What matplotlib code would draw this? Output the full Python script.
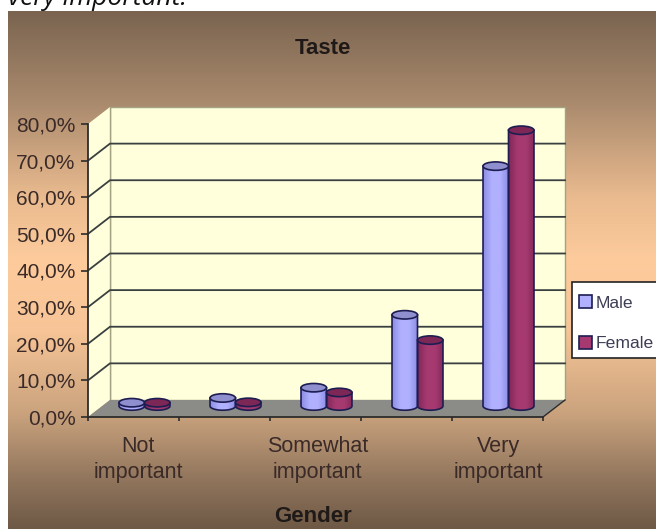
import matplotlib
matplotlib.use("Agg")
import matplotlib.pyplot as plt
import numpy as np
from matplotlib.colors import LinearSegmentedColormap
from matplotlib.patches import Ellipse, Patch, Polygon, Rectangle

plt.rcParams["font.family"] = ["Liberation Sans", "DejaVu Sans"]

categories = ["Not\nimportant", "", "Somewhat\nimportant", "", "Very\nimportant"]
male = [0.9, 2.2, 5.0, 24.9, 65.5]
female = [0.9, 1.0, 3.7, 18.0, 75.3]
y_ticks = [0, 10, 20, 30, 40, 50, 60, 70, 80]
y_labels = ["0,0%", "10,0%", "20,0%", "30,0%", "40,0%", "50,0%", "60,0%", "70,0%", "80,0%"]

W, H = 656, 529
TEXT = "#3a2a28"
DEPTH_X = 22 / 91
DEPTH_Y = 17 / 3.66
BASE_Y = 3.0
BAR_W = 0.28
CAP_H = 1.15

fig = plt.figure(figsize=(W / 100, H / 100), dpi=100, facecolor="white")

# panel background
bg = fig.add_axes([8 / W, 0, 1 - 8 / W, 1 - 11 / H])
bg.axis("off")
bg_cmap = LinearSegmentedColormap.from_list(
    "panel",
    [
        (0.0, "#7a6450"),
        (0.18, "#ab8b6e"),
        (0.36, "#eabb8f"),
        (0.48, "#fdcb9c"),
        (0.62, "#f6c496"),
        (0.78, "#c9a27d"),
        (0.90, "#93775e"),
        (1.0, "#6e5946"),
    ],
)
bg.imshow(np.linspace(0, 1, 256).reshape(-1, 1), cmap=bg_cmap, aspect="auto")

fig.text(8 / W, 1 - 5 / H, "very important:", fontsize=19, style="italic",
         family="Open Sans", color="#111111", va="baseline", ha="left")

ax = fig.add_axes([88 / W, (H - 417) / H, 455 / W, 293 / H])
ax.patch.set_alpha(0)

# walls and floor
wall = "#ffffdc"
ax.add_patch(Rectangle((DEPTH_X, DEPTH_Y), 5, 80, fc=wall, ec="#a3a384", lw=1, zorder=1, clip_on=False))
ax.add_patch(Polygon([(0, 0), (DEPTH_X, DEPTH_Y), (DEPTH_X, 80 + DEPTH_Y), (0, 80)],
                     fc=wall, ec="none", zorder=1, clip_on=False))
ax.plot([DEPTH_X, DEPTH_X], [DEPTH_Y, 80 + DEPTH_Y], color="#a3a384", lw=1, zorder=2, clip_on=False)
ax.add_patch(Polygon([(0, 0), (5, 0), (5 + DEPTH_X, DEPTH_Y), (DEPTH_X, DEPTH_Y)],
                     fc="#8b8b88", ec="none", zorder=2, clip_on=False))
ax.plot([5, 5 + DEPTH_X], [0, DEPTH_Y], color="#2c2c2c", lw=1, zorder=3, clip_on=False)

for t in y_ticks[1:-1]:
    ax.plot([0, DEPTH_X, 5 + DEPTH_X], [t, t + DEPTH_Y, t + DEPTH_Y],
            color="#3a4040", lw=1.3, zorder=3, clip_on=False)


def cylinder(x0, value, base, side, cap):
    cx = x0 + BAR_W / 2
    top = BASE_Y + value
    angles = np.linspace(np.pi, 2 * np.pi, 40)
    arc_x = cx + np.cos(angles) * BAR_W / 2
    arc_y = BASE_Y + np.sin(angles) * CAP_H
    outline = np.vstack([np.column_stack([arc_x, arc_y]),
                         [[x0 + BAR_W, top], [x0, top]]])
    body = Polygon(outline, closed=True, fc="none", ec="#1d1d52", lw=1.2, zorder=6, clip_on=False)
    ax.add_patch(body)
    cmap = LinearSegmentedColormap.from_list("cyl", [side, base, base, side])
    im = ax.imshow(np.linspace(0, 1, 32).reshape(1, -1), cmap=cmap, aspect="auto",
                   extent=(x0, x0 + BAR_W, BASE_Y - CAP_H, top), zorder=5)
    im.set_clip_path(body)
    ax.add_patch(Ellipse((cx, top), BAR_W, 2 * CAP_H, fc=cap, ec="#1d1d52", lw=1.2,
                         zorder=7, clip_on=False))


offset = (1 - 2 * BAR_W) / 2 + DEPTH_X / 2
for i in range(len(categories)):
    cylinder(i + offset, male[i], "#b0b0ff", "#8c8ce4", "#8f8fd0")
    cylinder(i + offset + BAR_W, female[i], "#a63a70", "#84285a", "#7c2755")

ax.set_xlim(0, 5)
ax.set_ylim(0, 80)
ax.set_yticks(y_ticks, y_labels)
ax.set_xticks(range(6), [""] * 6)
ax.set_xticks(np.arange(5) + 0.5 + np.array([0.05, 0, 0.02, 0, 0.01]), categories, minor=True)
ax.tick_params(axis="y", labelsize=15, labelcolor=TEXT, length=5, width=1.2, color="#2c2c2c", pad=4)
ax.tick_params(axis="x", which="major", length=3, width=1.2, color="#2c2c2c")
ax.tick_params(axis="x", which="minor", length=0, labelsize=15.5, labelcolor=TEXT, pad=14)
for label in ax.get_xticklabels(minor=True):
    label.set_linespacing(1.27)
for name in ["top", "right"]:
    ax.spines[name].set_visible(False)
for name in ["left", "bottom"]:
    ax.spines[name].set_color("#2c2c2c")
    ax.spines[name].set_linewidth(1.3)
    ax.spines[name].set_zorder(8)

fig.text(323 / W, 1 - 48 / H, "Taste", fontsize=16, fontweight="bold", color="#1f1a18",
         ha="center", va="center")
fig.text(313 / W, 1 - 517 / H, "Gender", fontsize=16, fontweight="bold", color="#1f1a18",
         ha="center", va="center")

# legend box runs off the right edge like the reference
fig.add_artist(Rectangle((572 / W, 1 - 358 / H), 100 / W, 76 / H, transform=fig.transFigure,
                         fc="white", ec="#222222", lw=1.2, zorder=9))
handles = [Patch(fc="#b0b0ff", ec="#1d1d52", lw=1.2, label="Male"),
           Patch(fc="#a63a70", ec="#1d1d52", lw=1.2, label="Female")]
legend = fig.legend(handles=handles, loc="upper left", bbox_to_anchor=(579 / W, 1 - 295 / H),
                    bbox_transform=fig.transFigure, fontsize=12.6, frameon=False, borderaxespad=0,
                    borderpad=0, handlelength=0.75, handleheight=0.75, handletextpad=0.2,
                    labelspacing=1.45, labelcolor="#3d3d55")
legend.set_zorder(10)

fig.savefig("out.png", dpi=100)
